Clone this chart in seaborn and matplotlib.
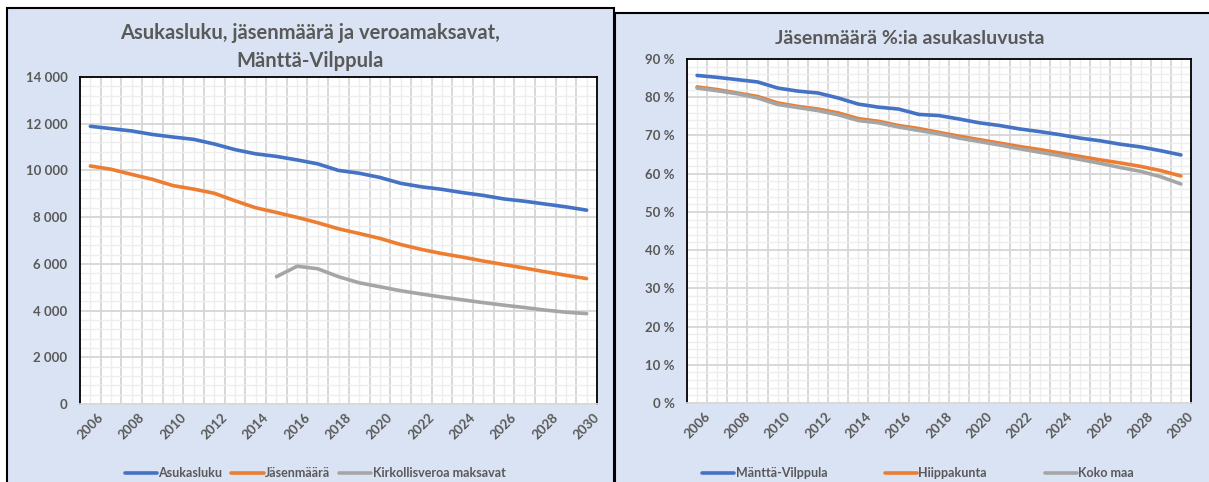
import numpy as np
import pandas as pd
import matplotlib
matplotlib.use("Agg")
import matplotlib.pyplot as plt
from matplotlib.patches import Rectangle
from matplotlib.ticker import FuncFormatter, MultipleLocator
import seaborn as sns

years = list(range(2006, 2031))

# left chart: population, members, church tax payers
asukasluku = [11890, 11790, 11690, 11540, 11430, 11330, 11130, 10890, 10710, 10600,
              10450, 10280, 10000, 9880, 9700, 9450, 9300, 9190, 9050, 8930,
              8780, 8680, 8560, 8440, 8300]
jasenmaara = [10190, 10050, 9830, 9620, 9350, 9200, 9020, 8700, 8400, 8200,
              7990, 7760, 7500, 7300, 7090, 6830, 6620, 6440, 6290, 6120,
              5970, 5820, 5660, 5510, 5370]
kirkollisvero = [None] * 9 + [5450, 5900, 5790, 5450, 5190, 5020, 4850, 4710, 4580,
                              4460, 4340, 4230, 4130, 4020, 3930, 3870]

# right chart: members as % of population
mantta = [85.7, 85.2, 84.6, 84.0, 82.4, 81.6, 81.1, 79.8, 78.2, 77.4,
          76.9, 75.5, 75.2, 74.3, 73.3, 72.6, 71.7, 71.0, 70.2, 69.3,
          68.6, 67.7, 67.0, 66.0, 64.9]
hiippakunta = [82.7, 82.0, 81.1, 80.2, 78.5, 77.6, 76.9, 75.9, 74.4, 73.7,
               72.6, 71.8, 70.8, 69.8, 68.9, 68.0, 67.1, 66.3, 65.4, 64.5,
               63.6, 62.8, 61.9, 60.8, 59.4]
koko_maa = [82.4, 81.7, 80.9, 79.8, 78.1, 77.3, 76.5, 75.4, 73.9, 73.3,
            72.2, 71.3, 70.4, 69.3, 68.4, 67.5, 66.5, 65.6, 64.7, 63.7,
            62.7, 61.6, 60.6, 59.2, 57.3]

BLUE, ORANGE, GRAY = "#4472C4", "#ED7D31", "#A5A5A5"
PANEL = "#DAE3F3"
TXT = "#595959"

sns.set_style("white")
plt.rcParams["font.family"] = ["Lato", "DejaVu Sans"]
plt.rcParams["font.weight"] = "bold"


def long_df(series):
    rows = []
    for name, vals in series.items():
        for i, v in enumerate(vals):
            if v is not None:
                rows.append({"pos": i, "value": v, "serie": name})
    return pd.DataFrame(rows)


def style_axes(ax, ymax, ymajor, yminor, fmt):
    ax.set_facecolor("white")
    ax.set_zorder(2)
    n = len(years)
    ax.set_xlim(-0.5, n - 0.5)
    ax.set_ylim(0, ymax)
    # category boundaries = major grid, category centres = minor grid
    ax.set_xticks(np.arange(-0.5, n, 1.0))
    ax.set_xticklabels([])
    ax.set_xticks(range(n), minor=True)
    ax.set_xticklabels([str(y) if y % 2 == 0 else "" for y in years], minor=True,
                       rotation=45, ha="center", va="top", fontsize=9.5,
                       color=TXT, fontweight="bold")
    ax.yaxis.set_major_locator(MultipleLocator(ymajor))
    ax.yaxis.set_minor_locator(MultipleLocator(yminor))
    ax.yaxis.set_major_formatter(FuncFormatter(fmt))
    ax.tick_params(axis="both", which="both", length=0)
    ax.tick_params(axis="y", labelsize=9.5, labelcolor=TXT, pad=9)
    ax.tick_params(axis="x", which="minor", pad=5)
    for lab in ax.get_yticklabels():
        lab.set_fontweight("bold")
    ax.grid(which="major", color="#D6D6D6", linewidth=1.3)
    ax.grid(which="minor", color="#EEEEEE", linewidth=1.0)
    ax.set_axisbelow(True)
    for side in ("left", "top", "right"):
        ax.spines[side].set_color("black")
        ax.spines[side].set_linewidth(1.3)
        ax.spines[side].set_visible(True)
    ax.spines["bottom"].set_color("#D9D9D9")
    ax.spines["bottom"].set_linewidth(1.3)
    ax.spines["bottom"].set_visible(True)
    ax.set_xlabel("")
    ax.set_ylabel("")


fig = plt.figure(figsize=(12.09, 4.82), dpi=100)
fig.patch.set_facecolor("white")

# chart panels
fig.add_artist(Rectangle((7 / 1209, -0.05), 607 / 1209, 1.05 - 8 / 482,
                         transform=fig.transFigure, facecolor=PANEL,
                         edgecolor="black", linewidth=1.5, zorder=-1))
fig.add_artist(Rectangle((615 / 1209, -0.05), 620 / 1209, 1.05 - 13 / 482,
                         transform=fig.transFigure, facecolor=PANEL,
                         edgecolor="black", linewidth=1.5, zorder=-1))

# left chart
ax1 = fig.add_axes([80 / 1209, 78 / 482, 517 / 1209, 327 / 482])
df1 = long_df({"Asukasluku": asukasluku, "Jäsenmäärä": jasenmaara,
               "Kirkollisveroa maksavat": kirkollisvero})
sns.lineplot(data=df1, x="pos", y="value", hue="serie", ax=ax1,
             palette=[BLUE, ORANGE, GRAY], linewidth=2.6, legend=True)
style_axes(ax1, 14000, 2000, 400, lambda v, p: f"{v:,.0f}".replace(",", " "))
h, l = ax1.get_legend_handles_labels()
ax1.get_legend().remove()
fig.legend(h, l, loc="center", bbox_to_anchor=(315 / 1209, 9 / 482), ncol=3,
           frameon=False, handlelength=2.6, handletextpad=0.1,
           columnspacing=0.7, labelcolor=TXT, prop={"weight": "bold", "size": 9})
fig.text(310 / 1209, 1 - 47 / 482, "Asukasluku, jäsenmäärä ja veroamaksavat,\nMänttä-Vilppula",
         ha="center", va="center", fontsize=14.5, color=TXT, fontweight="bold",
         linespacing=1.5)

# right chart
ax2 = fig.add_axes([687 / 1209, 79 / 482, 504 / 1209, 344 / 482])
df2 = long_df({"Mänttä-Vilppula": mantta, "Hiippakunta": hiippakunta,
               "Koko maa": koko_maa})
sns.lineplot(data=df2, x="pos", y="value", hue="serie", ax=ax2,
             palette=[BLUE, ORANGE, GRAY], linewidth=2.6, legend=True)
style_axes(ax2, 90, 10, 2, lambda v, p: f"{v:.0f} %")
h, l = ax2.get_legend_handles_labels()
ax2.get_legend().remove()
fig.legend(h, l, loc="center", bbox_to_anchor=(918 / 1209, 9 / 482), ncol=3,
           frameon=False, handlelength=2.6, handletextpad=0.1,
           columnspacing=4.6, labelcolor=TXT, prop={"weight": "bold", "size": 9})
fig.text(910 / 1209, 1 - 38 / 482, "Jäsenmäärä %:ia asukasluvusta",
         ha="center", va="center", fontsize=14, color=TXT, fontweight="bold")

fig.savefig("out.png", dpi=100)
